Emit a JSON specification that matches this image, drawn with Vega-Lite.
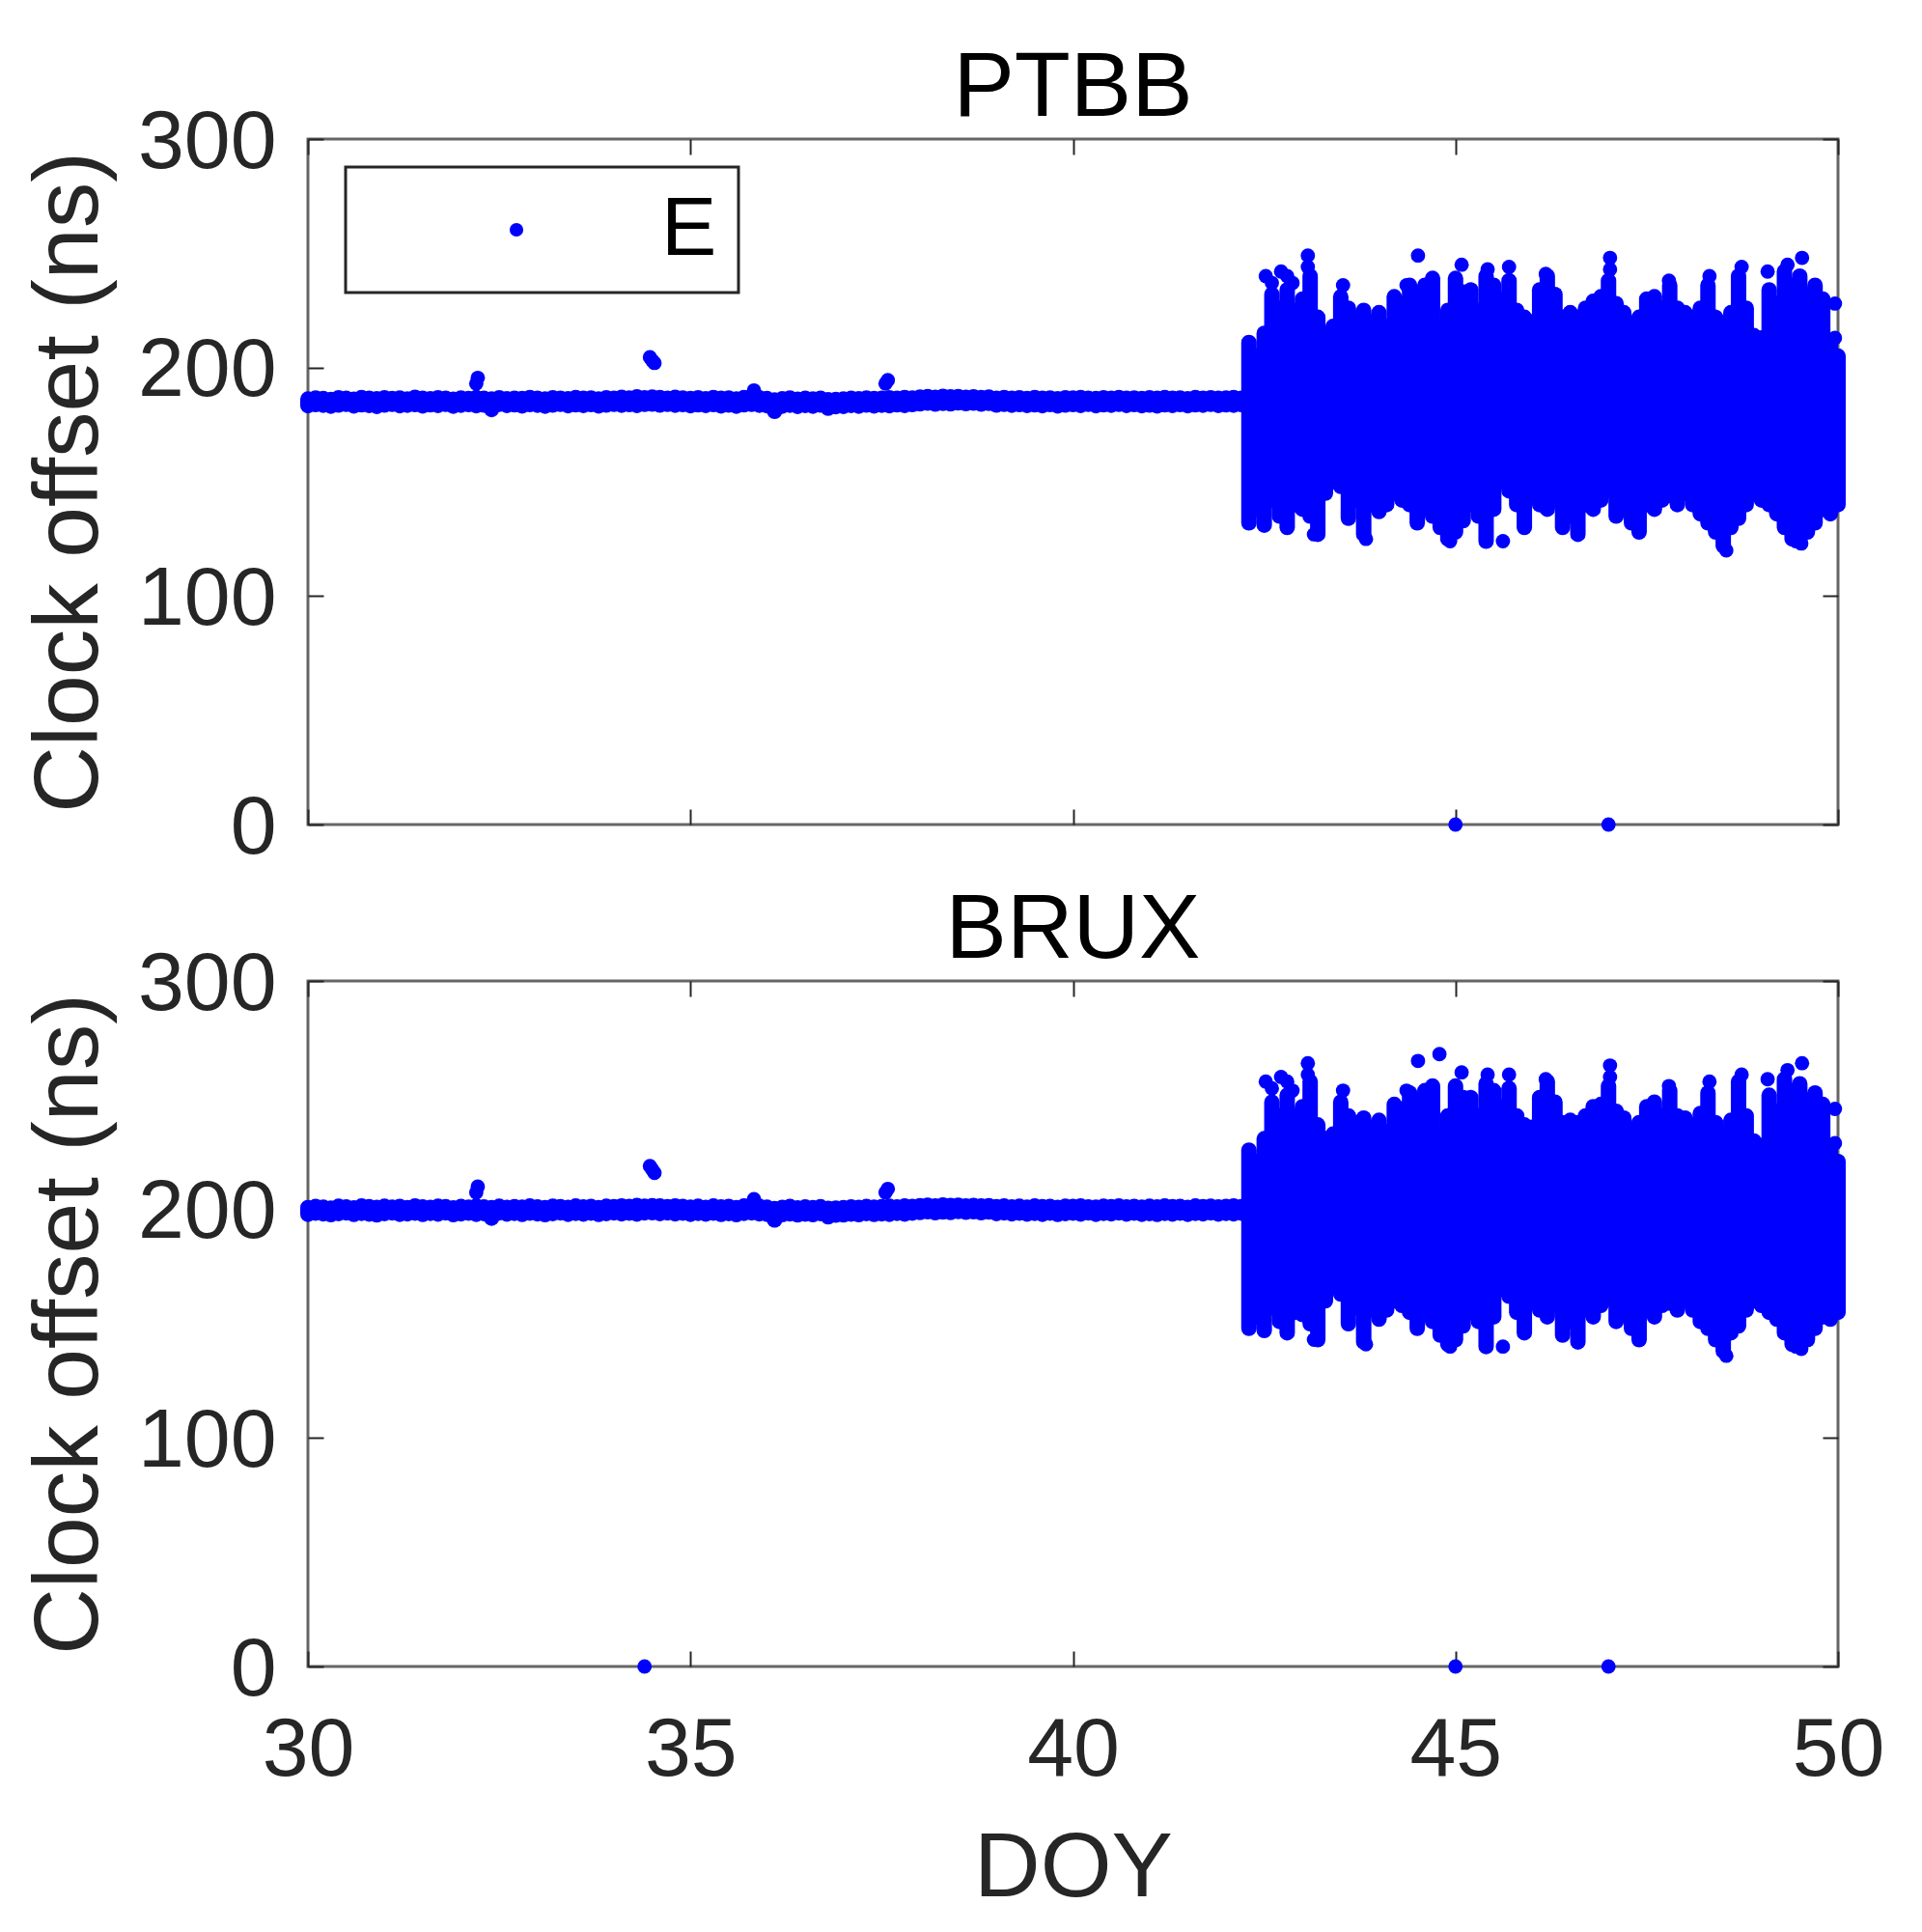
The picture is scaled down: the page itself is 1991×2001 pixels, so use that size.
{
  "$schema": "https://vega.github.io/schema/vega-lite/v6.json",
  "padding": {"left": 23, "top": 42, "right": 40, "bottom": 10},
  "background": "#ffffff",
  "spacing": 12,
  "config": {
    "font": "Liberation Sans",
    "view": {"stroke": "#666666", "strokeWidth": 3},
    "axis": {"domain": false, "grid": false, "tickColor": "#262626", "tickWidth": 2, "tickSize": -16, "labelFont": "Liberation Sans", "labelFontSize": 86, "labelColor": "#262626", "labelFlush": false, "labelOverlap": false, "titleFont": "Liberation Sans", "titleFontSize": 95, "titleColor": "#262626", "titleFontWeight": "normal"},
    "title": {"font": "Liberation Sans", "fontSize": 95, "fontWeight": "normal", "color": "#000000", "baseline": "alphabetic", "offset": -36, "anchor": "middle"},
    "legend": {"strokeWidth": 3}
  },
  "datasets": {
    "pts": [
      {"s":"PTBB","d":32.2,"v":193.0,"sys":"E"},{"s":"PTBB","d":32.22,"v":195.5,"sys":"E"},{"s":"PTBB","d":34.47,"v":204.5,"sys":"E"},{"s":"PTBB","d":34.5,"v":203.0,"sys":"E"},{"s":"PTBB","d":34.53,"v":202.0,"sys":"E"},{"s":"PTBB","d":35.83,"v":190.0,"sys":"E"},{"s":"PTBB","d":37.55,"v":193.0,"sys":"E"},{"s":"PTBB","d":37.58,"v":194.5,"sys":"E"},
      {"s":"PTBB","d":42.52,"v":240,"sys":"E"},{"s":"PTBB","d":42.6,"v":237,"sys":"E"},{"s":"PTBB","d":42.72,"v":242,"sys":"E"},{"s":"PTBB","d":42.8,"v":240,"sys":"E"},{"s":"PTBB","d":42.87,"v":237,"sys":"E"},{"s":"PTBB","d":43.07,"v":249,"sys":"E"},{"s":"PTBB","d":43.07,"v":244,"sys":"E"},{"s":"PTBB","d":43.53,"v":236,"sys":"E"},{"s":"PTBB","d":44.36,"v":236,"sys":"E"},{"s":"PTBB","d":44.51,"v":249,"sys":"E"},{"s":"PTBB","d":45.08,"v":245,"sys":"E"},{"s":"PTBB","d":45.42,"v":243,"sys":"E"},{"s":"PTBB","d":45.7,"v":244,"sys":"E"},{"s":"PTBB","d":46.18,"v":241,"sys":"E"},{"s":"PTBB","d":47.02,"v":248,"sys":"E"},{"s":"PTBB","d":47.02,"v":243,"sys":"E"},{"s":"PTBB","d":47.79,"v":238,"sys":"E"},{"s":"PTBB","d":48.32,"v":240,"sys":"E"},{"s":"PTBB","d":48.74,"v":244,"sys":"E"},{"s":"PTBB","d":49.08,"v":242,"sys":"E"},{"s":"PTBB","d":49.34,"v":245,"sys":"E"},{"s":"PTBB","d":49.53,"v":248,"sys":"E"},{"s":"PTBB","d":49.96,"v":228,"sys":"E"},{"s":"PTBB","d":49.96,"v":213,"sys":"E"},
      {"s":"PTBB","d":43.15,"v":127,"sys":"E"},{"s":"PTBB","d":43.83,"v":125,"sys":"E"},{"s":"PTBB","d":44.93,"v":124,"sys":"E"},{"s":"PTBB","d":45.62,"v":124,"sys":"E"},{"s":"PTBB","d":48.54,"v":120,"sys":"E"},{"s":"PTBB","d":49.45,"v":124,"sys":"E"},{"s":"PTBB","d":49.52,"v":123,"sys":"E"},
      {"s":"PTBB","d":45.0,"v":0,"sys":"E"},{"s":"PTBB","d":47.0,"v":0,"sys":"E"},
      {"s":"BRUX","d":32.2,"v":207.5,"sys":"E"},{"s":"BRUX","d":32.22,"v":210.0,"sys":"E"},{"s":"BRUX","d":34.47,"v":219.0,"sys":"E"},{"s":"BRUX","d":34.5,"v":217.5,"sys":"E"},{"s":"BRUX","d":34.53,"v":216.0,"sys":"E"},{"s":"BRUX","d":35.83,"v":204.5,"sys":"E"},{"s":"BRUX","d":37.55,"v":207.5,"sys":"E"},{"s":"BRUX","d":37.58,"v":209.0,"sys":"E"},
      {"s":"BRUX","d":42.52,"v":256,"sys":"E"},{"s":"BRUX","d":42.6,"v":253,"sys":"E"},{"s":"BRUX","d":42.72,"v":258,"sys":"E"},{"s":"BRUX","d":42.8,"v":256,"sys":"E"},{"s":"BRUX","d":42.87,"v":252,"sys":"E"},{"s":"BRUX","d":43.07,"v":264,"sys":"E"},{"s":"BRUX","d":43.07,"v":259,"sys":"E"},{"s":"BRUX","d":43.53,"v":252,"sys":"E"},{"s":"BRUX","d":44.36,"v":252,"sys":"E"},{"s":"BRUX","d":44.51,"v":265,"sys":"E"},{"s":"BRUX","d":44.79,"v":268,"sys":"E"},{"s":"BRUX","d":45.08,"v":260,"sys":"E"},{"s":"BRUX","d":45.42,"v":259,"sys":"E"},{"s":"BRUX","d":45.7,"v":259,"sys":"E"},{"s":"BRUX","d":46.18,"v":257,"sys":"E"},{"s":"BRUX","d":47.02,"v":263,"sys":"E"},{"s":"BRUX","d":47.02,"v":258,"sys":"E"},{"s":"BRUX","d":47.79,"v":254,"sys":"E"},{"s":"BRUX","d":48.32,"v":256,"sys":"E"},{"s":"BRUX","d":48.74,"v":259,"sys":"E"},{"s":"BRUX","d":49.08,"v":257,"sys":"E"},{"s":"BRUX","d":49.34,"v":261,"sys":"E"},{"s":"BRUX","d":49.53,"v":264,"sys":"E"},{"s":"BRUX","d":49.96,"v":244,"sys":"E"},{"s":"BRUX","d":49.96,"v":229,"sys":"E"},
      {"s":"BRUX","d":43.15,"v":143,"sys":"E"},{"s":"BRUX","d":43.83,"v":141,"sys":"E"},{"s":"BRUX","d":44.93,"v":140,"sys":"E"},{"s":"BRUX","d":45.62,"v":140,"sys":"E"},{"s":"BRUX","d":48.54,"v":136,"sys":"E"},{"s":"BRUX","d":49.45,"v":140,"sys":"E"},{"s":"BRUX","d":49.52,"v":139,"sys":"E"},
      {"s":"BRUX","d":34.4,"v":0,"sys":"E"},{"s":"BRUX","d":45.0,"v":0,"sys":"E"},{"s":"BRUX","d":47.0,"v":0,"sys":"E"}
    ],
    "rng": [
      {"s":"PTBB","d":30.0,"lo":183.3,"hi":186.2},{"s":"PTBB","d":30.1,"lo":183.8,"hi":186.7},{"s":"PTBB","d":30.2,"lo":183.5,"hi":186.4},{"s":"PTBB","d":30.3,"lo":183.1,"hi":186.0},{"s":"PTBB","d":30.4,"lo":183.6,"hi":186.8},{"s":"PTBB","d":30.5,"lo":183.9,"hi":186.5},{"s":"PTBB","d":30.6,"lo":183.2,"hi":186.1},{"s":"PTBB","d":30.7,"lo":183.7,"hi":186.9},{"s":"PTBB","d":30.8,"lo":183.4,"hi":186.6},{"s":"PTBB","d":30.9,"lo":183.0,"hi":186.3},
      {"s":"PTBB","d":31.0,"lo":183.6,"hi":186.8},{"s":"PTBB","d":31.1,"lo":183.9,"hi":186.4},{"s":"PTBB","d":31.2,"lo":183.3,"hi":186.7},{"s":"PTBB","d":31.3,"lo":183.5,"hi":186.2},{"s":"PTBB","d":31.4,"lo":183.8,"hi":187.0},{"s":"PTBB","d":31.5,"lo":183.2,"hi":186.5},{"s":"PTBB","d":31.6,"lo":183.7,"hi":186.3},{"s":"PTBB","d":31.7,"lo":183.4,"hi":186.8},{"s":"PTBB","d":31.8,"lo":183.9,"hi":186.6},{"s":"PTBB","d":31.9,"lo":183.1,"hi":186.1},
      {"s":"PTBB","d":32.0,"lo":183.5,"hi":186.7},{"s":"PTBB","d":32.1,"lo":183.8,"hi":186.4},{"s":"PTBB","d":32.2,"lo":183.3,"hi":186.9},{"s":"PTBB","d":32.3,"lo":183.6,"hi":186.5},{"s":"PTBB","d":32.4,"lo":181.6,"hi":186.2},{"s":"PTBB","d":32.5,"lo":183.9,"hi":186.8},{"s":"PTBB","d":32.6,"lo":183.4,"hi":186.3},{"s":"PTBB","d":32.7,"lo":183.7,"hi":186.6},{"s":"PTBB","d":32.8,"lo":183.2,"hi":186.4},{"s":"PTBB","d":32.9,"lo":183.8,"hi":186.9},
      {"s":"PTBB","d":33.0,"lo":183.5,"hi":186.5},{"s":"PTBB","d":33.1,"lo":183.1,"hi":186.2},{"s":"PTBB","d":33.2,"lo":183.6,"hi":186.8},{"s":"PTBB","d":33.3,"lo":183.9,"hi":186.6},{"s":"PTBB","d":33.4,"lo":183.3,"hi":186.3},{"s":"PTBB","d":33.5,"lo":183.7,"hi":186.9},{"s":"PTBB","d":33.6,"lo":183.4,"hi":186.5},{"s":"PTBB","d":33.7,"lo":183.8,"hi":186.7},{"s":"PTBB","d":33.8,"lo":183.2,"hi":186.2},{"s":"PTBB","d":33.9,"lo":183.6,"hi":186.8},
      {"s":"PTBB","d":34.0,"lo":183.9,"hi":186.6},{"s":"PTBB","d":34.1,"lo":183.5,"hi":187.0},{"s":"PTBB","d":34.2,"lo":183.8,"hi":186.7},{"s":"PTBB","d":34.3,"lo":183.4,"hi":187.2},{"s":"PTBB","d":34.4,"lo":183.9,"hi":186.8},{"s":"PTBB","d":34.5,"lo":184.0,"hi":187.1},{"s":"PTBB","d":34.6,"lo":183.6,"hi":186.9},{"s":"PTBB","d":34.7,"lo":183.9,"hi":186.6},{"s":"PTBB","d":34.8,"lo":183.5,"hi":187.0},{"s":"PTBB","d":34.9,"lo":183.8,"hi":186.7},
      {"s":"PTBB","d":35.0,"lo":183.3,"hi":186.4},{"s":"PTBB","d":35.1,"lo":183.7,"hi":186.8},{"s":"PTBB","d":35.2,"lo":183.4,"hi":186.3},{"s":"PTBB","d":35.3,"lo":183.8,"hi":186.9},{"s":"PTBB","d":35.4,"lo":183.2,"hi":186.5},{"s":"PTBB","d":35.5,"lo":183.6,"hi":186.7},{"s":"PTBB","d":35.6,"lo":183.1,"hi":186.2},{"s":"PTBB","d":35.7,"lo":183.7,"hi":186.9},{"s":"PTBB","d":35.8,"lo":183.9,"hi":187.3},{"s":"PTBB","d":35.9,"lo":183.5,"hi":186.8},
      {"s":"PTBB","d":36.0,"lo":183.3,"hi":186.4},{"s":"PTBB","d":36.1,"lo":180.8,"hi":185.8},{"s":"PTBB","d":36.2,"lo":183.1,"hi":186.3},{"s":"PTBB","d":36.3,"lo":183.5,"hi":186.7},{"s":"PTBB","d":36.4,"lo":183.0,"hi":186.1},{"s":"PTBB","d":36.5,"lo":183.4,"hi":186.5},{"s":"PTBB","d":36.6,"lo":183.1,"hi":186.2},{"s":"PTBB","d":36.7,"lo":183.6,"hi":186.6},{"s":"PTBB","d":36.8,"lo":182.2,"hi":185.9},{"s":"PTBB","d":36.9,"lo":182.9,"hi":186.0},
      {"s":"PTBB","d":37.0,"lo":183.0,"hi":186.2},{"s":"PTBB","d":37.1,"lo":183.4,"hi":186.5},{"s":"PTBB","d":37.2,"lo":183.1,"hi":186.3},{"s":"PTBB","d":37.3,"lo":183.6,"hi":186.7},{"s":"PTBB","d":37.4,"lo":183.2,"hi":186.4},{"s":"PTBB","d":37.5,"lo":183.5,"hi":186.6},{"s":"PTBB","d":37.6,"lo":183.3,"hi":186.8},{"s":"PTBB","d":37.7,"lo":183.7,"hi":186.5},{"s":"PTBB","d":37.8,"lo":183.4,"hi":186.9},{"s":"PTBB","d":37.9,"lo":183.8,"hi":186.7},
      {"s":"PTBB","d":38.0,"lo":184.1,"hi":187.1},{"s":"PTBB","d":38.1,"lo":184.4,"hi":187.3},{"s":"PTBB","d":38.2,"lo":184.0,"hi":187.0},{"s":"PTBB","d":38.3,"lo":184.3,"hi":187.4},{"s":"PTBB","d":38.4,"lo":184.1,"hi":187.2},{"s":"PTBB","d":38.5,"lo":184.5,"hi":187.3},{"s":"PTBB","d":38.6,"lo":184.2,"hi":187.0},{"s":"PTBB","d":38.7,"lo":184.4,"hi":187.2},{"s":"PTBB","d":38.8,"lo":184.0,"hi":186.9},{"s":"PTBB","d":38.9,"lo":184.3,"hi":187.1},
      {"s":"PTBB","d":39.0,"lo":183.6,"hi":186.6},{"s":"PTBB","d":39.1,"lo":183.9,"hi":186.9},{"s":"PTBB","d":39.2,"lo":183.5,"hi":186.5},{"s":"PTBB","d":39.3,"lo":183.8,"hi":186.8},{"s":"PTBB","d":39.4,"lo":183.4,"hi":186.4},{"s":"PTBB","d":39.5,"lo":183.7,"hi":186.9},{"s":"PTBB","d":39.6,"lo":183.3,"hi":186.6},{"s":"PTBB","d":39.7,"lo":183.8,"hi":186.7},{"s":"PTBB","d":39.8,"lo":183.2,"hi":186.3},{"s":"PTBB","d":39.9,"lo":183.6,"hi":186.8},
      {"s":"PTBB","d":40.0,"lo":183.8,"hi":186.7},{"s":"PTBB","d":40.1,"lo":183.4,"hi":186.9},{"s":"PTBB","d":40.2,"lo":183.9,"hi":186.5},{"s":"PTBB","d":40.3,"lo":183.3,"hi":186.4},{"s":"PTBB","d":40.4,"lo":183.7,"hi":186.8},{"s":"PTBB","d":40.5,"lo":183.5,"hi":186.6},{"s":"PTBB","d":40.6,"lo":183.9,"hi":186.9},{"s":"PTBB","d":40.7,"lo":183.4,"hi":186.5},{"s":"PTBB","d":40.8,"lo":183.8,"hi":186.7},{"s":"PTBB","d":40.9,"lo":183.3,"hi":186.4},
      {"s":"PTBB","d":41.0,"lo":183.6,"hi":186.8},{"s":"PTBB","d":41.1,"lo":183.2,"hi":186.5},{"s":"PTBB","d":41.2,"lo":183.7,"hi":186.9},{"s":"PTBB","d":41.3,"lo":183.4,"hi":186.6},{"s":"PTBB","d":41.4,"lo":183.8,"hi":186.7},{"s":"PTBB","d":41.5,"lo":183.3,"hi":186.3},{"s":"PTBB","d":41.6,"lo":183.7,"hi":186.9},{"s":"PTBB","d":41.7,"lo":183.5,"hi":186.6},{"s":"PTBB","d":41.8,"lo":183.9,"hi":186.8},{"s":"PTBB","d":41.9,"lo":183.4,"hi":186.5},
      {"s":"PTBB","d":42.0,"lo":183.7,"hi":186.7},{"s":"PTBB","d":42.1,"lo":183.5,"hi":186.9},{"s":"PTBB","d":42.2,"lo":183.8,"hi":186.6},

      {"s":"PTBB","d":42.3,"lo":132,"hi":211},{"s":"PTBB","d":42.4,"lo":138,"hi":205},{"s":"PTBB","d":42.5,"lo":131,"hi":215},{"s":"PTBB","d":42.6,"lo":142,"hi":232},{"s":"PTBB","d":42.7,"lo":135,"hi":226},{"s":"PTBB","d":42.8,"lo":130,"hi":234},{"s":"PTBB","d":42.9,"lo":140,"hi":225},{"s":"PTBB","d":43.0,"lo":138,"hi":230},{"s":"PTBB","d":43.1,"lo":135,"hi":240},{"s":"PTBB","d":43.2,"lo":127,"hi":222},
      {"s":"PTBB","d":43.3,"lo":145,"hi":215},{"s":"PTBB","d":43.4,"lo":150,"hi":218},{"s":"PTBB","d":43.5,"lo":148,"hi":231},{"s":"PTBB","d":43.6,"lo":134,"hi":226},{"s":"PTBB","d":43.7,"lo":142,"hi":222},{"s":"PTBB","d":43.8,"lo":127,"hi":225},{"s":"PTBB","d":43.9,"lo":140,"hi":220},{"s":"PTBB","d":44.0,"lo":137,"hi":224},{"s":"PTBB","d":44.1,"lo":140,"hi":218},{"s":"PTBB","d":44.2,"lo":145,"hi":231},
      {"s":"PTBB","d":44.3,"lo":142,"hi":228},{"s":"PTBB","d":44.4,"lo":140,"hi":236},{"s":"PTBB","d":44.5,"lo":132,"hi":232},{"s":"PTBB","d":44.6,"lo":148,"hi":236},{"s":"PTBB","d":44.7,"lo":135,"hi":239},{"s":"PTBB","d":44.8,"lo":130,"hi":217},{"s":"PTBB","d":44.9,"lo":125,"hi":225},{"s":"PTBB","d":45.0,"lo":128,"hi":239},{"s":"PTBB","d":45.1,"lo":133,"hi":233},{"s":"PTBB","d":45.2,"lo":140,"hi":234},
      {"s":"PTBB","d":45.3,"lo":135,"hi":225},{"s":"PTBB","d":45.4,"lo":124,"hi":240},{"s":"PTBB","d":45.5,"lo":138,"hi":236},{"s":"PTBB","d":45.6,"lo":150,"hi":230},{"s":"PTBB","d":45.7,"lo":146,"hi":238},{"s":"PTBB","d":45.8,"lo":140,"hi":225},{"s":"PTBB","d":45.9,"lo":130,"hi":222},{"s":"PTBB","d":46.0,"lo":145,"hi":220},{"s":"PTBB","d":46.1,"lo":140,"hi":234},{"s":"PTBB","d":46.2,"lo":138,"hi":240},
      {"s":"PTBB","d":46.3,"lo":142,"hi":232},{"s":"PTBB","d":46.4,"lo":130,"hi":222},{"s":"PTBB","d":46.5,"lo":135,"hi":224},{"s":"PTBB","d":46.6,"lo":127,"hi":222},{"s":"PTBB","d":46.7,"lo":140,"hi":226},{"s":"PTBB","d":46.8,"lo":138,"hi":229},{"s":"PTBB","d":46.9,"lo":142,"hi":231},{"s":"PTBB","d":47.0,"lo":146,"hi":238},{"s":"PTBB","d":47.1,"lo":135,"hi":228},{"s":"PTBB","d":47.2,"lo":140,"hi":224},
      {"s":"PTBB","d":47.3,"lo":132,"hi":218},{"s":"PTBB","d":47.4,"lo":128,"hi":222},{"s":"PTBB","d":47.5,"lo":140,"hi":230},{"s":"PTBB","d":47.6,"lo":138,"hi":231},{"s":"PTBB","d":47.7,"lo":142,"hi":226},{"s":"PTBB","d":47.8,"lo":144,"hi":236},{"s":"PTBB","d":47.9,"lo":140,"hi":226},{"s":"PTBB","d":48.0,"lo":145,"hi":224},{"s":"PTBB","d":48.1,"lo":140,"hi":222},{"s":"PTBB","d":48.2,"lo":136,"hi":226},
      {"s":"PTBB","d":48.3,"lo":132,"hi":236},{"s":"PTBB","d":48.4,"lo":128,"hi":222},{"s":"PTBB","d":48.5,"lo":122,"hi":218},{"s":"PTBB","d":48.6,"lo":130,"hi":224},{"s":"PTBB","d":48.7,"lo":134,"hi":240},{"s":"PTBB","d":48.8,"lo":140,"hi":226},{"s":"PTBB","d":48.9,"lo":145,"hi":214},{"s":"PTBB","d":49.0,"lo":142,"hi":213},{"s":"PTBB","d":49.1,"lo":140,"hi":234},{"s":"PTBB","d":49.2,"lo":136,"hi":228},
      {"s":"PTBB","d":49.3,"lo":130,"hi":242},{"s":"PTBB","d":49.4,"lo":125,"hi":236},{"s":"PTBB","d":49.5,"lo":124,"hi":240},{"s":"PTBB","d":49.6,"lo":128,"hi":232},{"s":"PTBB","d":49.7,"lo":132,"hi":236},{"s":"PTBB","d":49.8,"lo":138,"hi":230},{"s":"PTBB","d":49.9,"lo":136,"hi":212},{"s":"PTBB","d":50.0,"lo":140,"hi":205},

      {"s":"BRUX","d":30.0,"lo":197.9,"hi":200.8},{"s":"BRUX","d":30.1,"lo":198.4,"hi":201.3},{"s":"BRUX","d":30.2,"lo":198.1,"hi":201.0},{"s":"BRUX","d":30.3,"lo":197.7,"hi":200.6},{"s":"BRUX","d":30.4,"lo":198.2,"hi":201.4},{"s":"BRUX","d":30.5,"lo":198.5,"hi":201.1},{"s":"BRUX","d":30.6,"lo":197.8,"hi":200.7},{"s":"BRUX","d":30.7,"lo":198.3,"hi":201.5},{"s":"BRUX","d":30.8,"lo":198.0,"hi":201.2},{"s":"BRUX","d":30.9,"lo":197.6,"hi":200.9},
      {"s":"BRUX","d":31.0,"lo":198.2,"hi":201.4},{"s":"BRUX","d":31.1,"lo":198.5,"hi":201.0},{"s":"BRUX","d":31.2,"lo":197.9,"hi":201.3},{"s":"BRUX","d":31.3,"lo":198.1,"hi":200.8},{"s":"BRUX","d":31.4,"lo":198.4,"hi":201.6},{"s":"BRUX","d":31.5,"lo":197.8,"hi":201.1},{"s":"BRUX","d":31.6,"lo":198.3,"hi":200.9},{"s":"BRUX","d":31.7,"lo":198.0,"hi":201.4},{"s":"BRUX","d":31.8,"lo":198.5,"hi":201.2},{"s":"BRUX","d":31.9,"lo":197.7,"hi":200.7},
      {"s":"BRUX","d":32.0,"lo":198.1,"hi":201.3},{"s":"BRUX","d":32.1,"lo":198.4,"hi":201.0},{"s":"BRUX","d":32.2,"lo":197.9,"hi":201.5},{"s":"BRUX","d":32.3,"lo":198.2,"hi":201.1},{"s":"BRUX","d":32.4,"lo":196.2,"hi":200.8},{"s":"BRUX","d":32.5,"lo":198.5,"hi":201.4},{"s":"BRUX","d":32.6,"lo":198.0,"hi":200.9},{"s":"BRUX","d":32.7,"lo":198.3,"hi":201.2},{"s":"BRUX","d":32.8,"lo":197.8,"hi":201.0},{"s":"BRUX","d":32.9,"lo":198.4,"hi":201.5},
      {"s":"BRUX","d":33.0,"lo":198.1,"hi":201.1},{"s":"BRUX","d":33.1,"lo":197.7,"hi":200.8},{"s":"BRUX","d":33.2,"lo":198.2,"hi":201.4},{"s":"BRUX","d":33.3,"lo":198.5,"hi":201.2},{"s":"BRUX","d":33.4,"lo":197.9,"hi":200.9},{"s":"BRUX","d":33.5,"lo":198.3,"hi":201.5},{"s":"BRUX","d":33.6,"lo":198.0,"hi":201.1},{"s":"BRUX","d":33.7,"lo":198.4,"hi":201.3},{"s":"BRUX","d":33.8,"lo":197.8,"hi":200.8},{"s":"BRUX","d":33.9,"lo":198.2,"hi":201.4},
      {"s":"BRUX","d":34.0,"lo":198.5,"hi":201.2},{"s":"BRUX","d":34.1,"lo":198.1,"hi":201.6},{"s":"BRUX","d":34.2,"lo":198.4,"hi":201.3},{"s":"BRUX","d":34.3,"lo":198.0,"hi":201.8},{"s":"BRUX","d":34.4,"lo":198.5,"hi":201.4},{"s":"BRUX","d":34.5,"lo":198.6,"hi":201.7},{"s":"BRUX","d":34.6,"lo":198.2,"hi":201.5},{"s":"BRUX","d":34.7,"lo":198.5,"hi":201.2},{"s":"BRUX","d":34.8,"lo":198.1,"hi":201.6},{"s":"BRUX","d":34.9,"lo":198.4,"hi":201.3},
      {"s":"BRUX","d":35.0,"lo":197.9,"hi":201.0},{"s":"BRUX","d":35.1,"lo":198.3,"hi":201.4},{"s":"BRUX","d":35.2,"lo":198.0,"hi":200.9},{"s":"BRUX","d":35.3,"lo":198.4,"hi":201.5},{"s":"BRUX","d":35.4,"lo":197.8,"hi":201.1},{"s":"BRUX","d":35.5,"lo":198.2,"hi":201.3},{"s":"BRUX","d":35.6,"lo":197.7,"hi":200.8},{"s":"BRUX","d":35.7,"lo":198.3,"hi":201.5},{"s":"BRUX","d":35.8,"lo":198.5,"hi":201.9},{"s":"BRUX","d":35.9,"lo":198.1,"hi":201.4},
      {"s":"BRUX","d":36.0,"lo":197.9,"hi":201.0},{"s":"BRUX","d":36.1,"lo":195.4,"hi":200.4},{"s":"BRUX","d":36.2,"lo":197.7,"hi":200.9},{"s":"BRUX","d":36.3,"lo":198.1,"hi":201.3},{"s":"BRUX","d":36.4,"lo":197.6,"hi":200.7},{"s":"BRUX","d":36.5,"lo":198.0,"hi":201.1},{"s":"BRUX","d":36.6,"lo":197.7,"hi":200.8},{"s":"BRUX","d":36.7,"lo":198.2,"hi":201.2},{"s":"BRUX","d":36.8,"lo":196.8,"hi":200.5},{"s":"BRUX","d":36.9,"lo":197.5,"hi":200.6},
      {"s":"BRUX","d":37.0,"lo":197.6,"hi":200.8},{"s":"BRUX","d":37.1,"lo":198.0,"hi":201.1},{"s":"BRUX","d":37.2,"lo":197.7,"hi":200.9},{"s":"BRUX","d":37.3,"lo":198.2,"hi":201.3},{"s":"BRUX","d":37.4,"lo":197.8,"hi":201.0},{"s":"BRUX","d":37.5,"lo":198.1,"hi":201.2},{"s":"BRUX","d":37.6,"lo":197.9,"hi":201.4},{"s":"BRUX","d":37.7,"lo":198.3,"hi":201.1},{"s":"BRUX","d":37.8,"lo":198.0,"hi":201.5},{"s":"BRUX","d":37.9,"lo":198.4,"hi":201.3},
      {"s":"BRUX","d":38.0,"lo":198.7,"hi":201.7},{"s":"BRUX","d":38.1,"lo":199.0,"hi":201.9},{"s":"BRUX","d":38.2,"lo":198.6,"hi":201.6},{"s":"BRUX","d":38.3,"lo":198.9,"hi":202.0},{"s":"BRUX","d":38.4,"lo":198.7,"hi":201.8},{"s":"BRUX","d":38.5,"lo":199.1,"hi":201.9},{"s":"BRUX","d":38.6,"lo":198.8,"hi":201.6},{"s":"BRUX","d":38.7,"lo":199.0,"hi":201.8},{"s":"BRUX","d":38.8,"lo":198.6,"hi":201.5},{"s":"BRUX","d":38.9,"lo":198.9,"hi":201.7},
      {"s":"BRUX","d":39.0,"lo":198.2,"hi":201.2},{"s":"BRUX","d":39.1,"lo":198.5,"hi":201.5},{"s":"BRUX","d":39.2,"lo":198.1,"hi":201.1},{"s":"BRUX","d":39.3,"lo":198.4,"hi":201.4},{"s":"BRUX","d":39.4,"lo":198.0,"hi":201.0},{"s":"BRUX","d":39.5,"lo":198.3,"hi":201.5},{"s":"BRUX","d":39.6,"lo":197.9,"hi":201.2},{"s":"BRUX","d":39.7,"lo":198.4,"hi":201.3},{"s":"BRUX","d":39.8,"lo":197.8,"hi":200.9},{"s":"BRUX","d":39.9,"lo":198.2,"hi":201.4},
      {"s":"BRUX","d":40.0,"lo":198.4,"hi":201.3},{"s":"BRUX","d":40.1,"lo":198.0,"hi":201.5},{"s":"BRUX","d":40.2,"lo":198.5,"hi":201.1},{"s":"BRUX","d":40.3,"lo":197.9,"hi":201.0},{"s":"BRUX","d":40.4,"lo":198.3,"hi":201.4},{"s":"BRUX","d":40.5,"lo":198.1,"hi":201.2},{"s":"BRUX","d":40.6,"lo":198.5,"hi":201.5},{"s":"BRUX","d":40.7,"lo":198.0,"hi":201.1},{"s":"BRUX","d":40.8,"lo":198.4,"hi":201.3},{"s":"BRUX","d":40.9,"lo":197.9,"hi":201.0},
      {"s":"BRUX","d":41.0,"lo":198.2,"hi":201.4},{"s":"BRUX","d":41.1,"lo":197.8,"hi":201.1},{"s":"BRUX","d":41.2,"lo":198.3,"hi":201.5},{"s":"BRUX","d":41.3,"lo":198.0,"hi":201.2},{"s":"BRUX","d":41.4,"lo":198.4,"hi":201.3},{"s":"BRUX","d":41.5,"lo":197.9,"hi":200.9},{"s":"BRUX","d":41.6,"lo":198.3,"hi":201.5},{"s":"BRUX","d":41.7,"lo":198.1,"hi":201.2},{"s":"BRUX","d":41.8,"lo":198.5,"hi":201.4},{"s":"BRUX","d":41.9,"lo":198.0,"hi":201.1},
      {"s":"BRUX","d":42.0,"lo":198.3,"hi":201.3},{"s":"BRUX","d":42.1,"lo":198.1,"hi":201.5},{"s":"BRUX","d":42.2,"lo":198.4,"hi":201.2},

      {"s":"BRUX","d":42.3,"lo":148,"hi":226},{"s":"BRUX","d":42.4,"lo":153,"hi":221},{"s":"BRUX","d":42.5,"lo":147,"hi":231},{"s":"BRUX","d":42.6,"lo":157,"hi":247},{"s":"BRUX","d":42.7,"lo":151,"hi":241},{"s":"BRUX","d":42.8,"lo":146,"hi":250},{"s":"BRUX","d":42.9,"lo":155,"hi":241},{"s":"BRUX","d":43.0,"lo":154,"hi":245},{"s":"BRUX","d":43.1,"lo":150,"hi":256},{"s":"BRUX","d":43.2,"lo":143,"hi":237},
      {"s":"BRUX","d":43.3,"lo":160,"hi":231},{"s":"BRUX","d":43.4,"lo":166,"hi":233},{"s":"BRUX","d":43.5,"lo":163,"hi":247},{"s":"BRUX","d":43.6,"lo":150,"hi":241},{"s":"BRUX","d":43.7,"lo":157,"hi":238},{"s":"BRUX","d":43.8,"lo":142,"hi":240},{"s":"BRUX","d":43.9,"lo":156,"hi":236},{"s":"BRUX","d":44.0,"lo":152,"hi":239},{"s":"BRUX","d":44.1,"lo":156,"hi":234},{"s":"BRUX","d":44.2,"lo":160,"hi":246},
      {"s":"BRUX","d":44.3,"lo":158,"hi":244},{"s":"BRUX","d":44.4,"lo":155,"hi":251},{"s":"BRUX","d":44.5,"lo":148,"hi":248},{"s":"BRUX","d":44.6,"lo":163,"hi":252},{"s":"BRUX","d":44.7,"lo":151,"hi":254},{"s":"BRUX","d":44.8,"lo":145,"hi":233},{"s":"BRUX","d":44.9,"lo":141,"hi":241},{"s":"BRUX","d":45.0,"lo":143,"hi":254},{"s":"BRUX","d":45.1,"lo":149,"hi":249},{"s":"BRUX","d":45.2,"lo":155,"hi":249},
      {"s":"BRUX","d":45.3,"lo":151,"hi":241},{"s":"BRUX","d":45.4,"lo":140,"hi":255},{"s":"BRUX","d":45.5,"lo":153,"hi":252},{"s":"BRUX","d":45.6,"lo":165,"hi":245},{"s":"BRUX","d":45.7,"lo":162,"hi":253},{"s":"BRUX","d":45.8,"lo":155,"hi":241},{"s":"BRUX","d":45.9,"lo":146,"hi":237},{"s":"BRUX","d":46.0,"lo":160,"hi":236},{"s":"BRUX","d":46.1,"lo":156,"hi":249},{"s":"BRUX","d":46.2,"lo":153,"hi":256},
      {"s":"BRUX","d":46.3,"lo":158,"hi":247},{"s":"BRUX","d":46.4,"lo":145,"hi":238},{"s":"BRUX","d":46.5,"lo":151,"hi":239},{"s":"BRUX","d":46.6,"lo":142,"hi":238},{"s":"BRUX","d":46.7,"lo":156,"hi":241},{"s":"BRUX","d":46.8,"lo":153,"hi":245},{"s":"BRUX","d":46.9,"lo":158,"hi":246},{"s":"BRUX","d":47.0,"lo":161,"hi":254},{"s":"BRUX","d":47.1,"lo":151,"hi":243},{"s":"BRUX","d":47.2,"lo":155,"hi":240},
      {"s":"BRUX","d":47.3,"lo":148,"hi":233},{"s":"BRUX","d":47.4,"lo":143,"hi":238},{"s":"BRUX","d":47.5,"lo":156,"hi":245},{"s":"BRUX","d":47.6,"lo":153,"hi":247},{"s":"BRUX","d":47.7,"lo":158,"hi":241},{"s":"BRUX","d":47.8,"lo":159,"hi":252},{"s":"BRUX","d":47.9,"lo":156,"hi":241},{"s":"BRUX","d":48.0,"lo":160,"hi":240},{"s":"BRUX","d":48.1,"lo":156,"hi":237},{"s":"BRUX","d":48.2,"lo":151,"hi":242},
      {"s":"BRUX","d":48.3,"lo":148,"hi":251},{"s":"BRUX","d":48.4,"lo":143,"hi":238},{"s":"BRUX","d":48.5,"lo":138,"hi":233},{"s":"BRUX","d":48.6,"lo":146,"hi":239},{"s":"BRUX","d":48.7,"lo":149,"hi":256},{"s":"BRUX","d":48.8,"lo":156,"hi":241},{"s":"BRUX","d":48.9,"lo":160,"hi":230},{"s":"BRUX","d":49.0,"lo":158,"hi":228},{"s":"BRUX","d":49.1,"lo":155,"hi":250},{"s":"BRUX","d":49.2,"lo":152,"hi":243},
      {"s":"BRUX","d":49.3,"lo":146,"hi":257},{"s":"BRUX","d":49.4,"lo":141,"hi":252},{"s":"BRUX","d":49.5,"lo":140,"hi":255},{"s":"BRUX","d":49.6,"lo":143,"hi":248},{"s":"BRUX","d":49.7,"lo":148,"hi":251},{"s":"BRUX","d":49.8,"lo":153,"hi":246},{"s":"BRUX","d":49.9,"lo":152,"hi":227},{"s":"BRUX","d":50.0,"lo":155,"hi":221}
    ]
  },
  "vconcat": [
    {
      "title": "PTBB",
      "width": 1585,
      "height": 710,
      "layer": [
        {
          "data": {"name": "rng"},
          "transform": [{"filter": "datum.s === 'PTBB'"}],
          "mark": {"type": "rule", "strokeWidth": 16, "strokeCap": "round", "color": "#0000ff"},
          "encoding": {
            "x": {"field": "d", "type": "quantitative", "scale": {"domain": [30, 50], "nice": false, "zero": false}, "axis": {"orient": "bottom", "labels": false, "title": null, "values": [30, 35, 40, 45, 50]}},
            "y": {"field": "hi", "type": "quantitative", "scale": {"domain": [0, 300], "nice": false}, "axis": {"orient": "left", "title": "Clock offset (ns)", "values": [0, 100, 200, 300], "labelPadding": 49, "titlePadding": 22, "labelOffset": 3}},
            "y2": {"field": "lo"}
          }
        },
        {
          "data": {"name": "pts"},
          "transform": [{"filter": "datum.s === 'PTBB'"}],
          "mark": {"type": "point", "filled": true, "size": 220, "opacity": 1, "strokeWidth": 0},
          "encoding": {
            "x": {"field": "d", "type": "quantitative", "axis": {"orient": "top", "labels": false, "title": null, "values": [30, 35, 40, 45, 50]}},
            "y": {"field": "v", "type": "quantitative", "axis": {"orient": "right", "labels": false, "title": null, "values": [0, 100, 200, 300]}},
            "color": {"field": "sys", "type": "nominal", "scale": {"range": ["#0000ff"]}, "legend": {"title": null, "orient": "none", "legendX": 39, "legendY": 29, "padding": 22, "strokeColor": "#262626", "fillColor": "#ffffff", "symbolType": "circle", "symbolSize": 200, "symbolStrokeWidth": 0, "symbolOffset": 112, "labelOffset": 107, "labelFontSize": 86, "labelFont": "Liberation Sans", "labelColor": "#000000"}}
          }
        }
      ],
      "resolve": {"axis": {"x": "independent", "y": "independent"}}
    },
    {
      "title": "BRUX",
      "width": 1585,
      "height": 710,
      "layer": [
        {
          "data": {"name": "rng"},
          "transform": [{"filter": "datum.s === 'BRUX'"}],
          "mark": {"type": "rule", "strokeWidth": 16, "strokeCap": "round", "color": "#0000ff"},
          "encoding": {
            "x": {"field": "d", "type": "quantitative", "scale": {"domain": [30, 50], "nice": false, "zero": false}, "axis": {"orient": "bottom", "title": "DOY", "values": [30, 35, 40, 45, 50], "labelPadding": 60, "titlePadding": 33}},
            "y": {"field": "hi", "type": "quantitative", "scale": {"domain": [0, 300], "nice": false}, "axis": {"orient": "left", "title": "Clock offset (ns)", "values": [0, 100, 200, 300], "labelPadding": 49, "titlePadding": 22, "labelOffset": 3}},
            "y2": {"field": "lo"}
          }
        },
        {
          "data": {"name": "pts"},
          "transform": [{"filter": "datum.s === 'BRUX'"}],
          "mark": {"type": "point", "filled": true, "size": 220, "opacity": 1, "strokeWidth": 0, "color": "#0000ff"},
          "encoding": {
            "x": {"field": "d", "type": "quantitative", "axis": {"orient": "top", "labels": false, "title": null, "values": [30, 35, 40, 45, 50]}},
            "y": {"field": "v", "type": "quantitative", "axis": {"orient": "right", "labels": false, "title": null, "values": [0, 100, 200, 300]}}
          }
        }
      ],
      "resolve": {"axis": {"x": "independent", "y": "independent"}}
    }
  ]
}
